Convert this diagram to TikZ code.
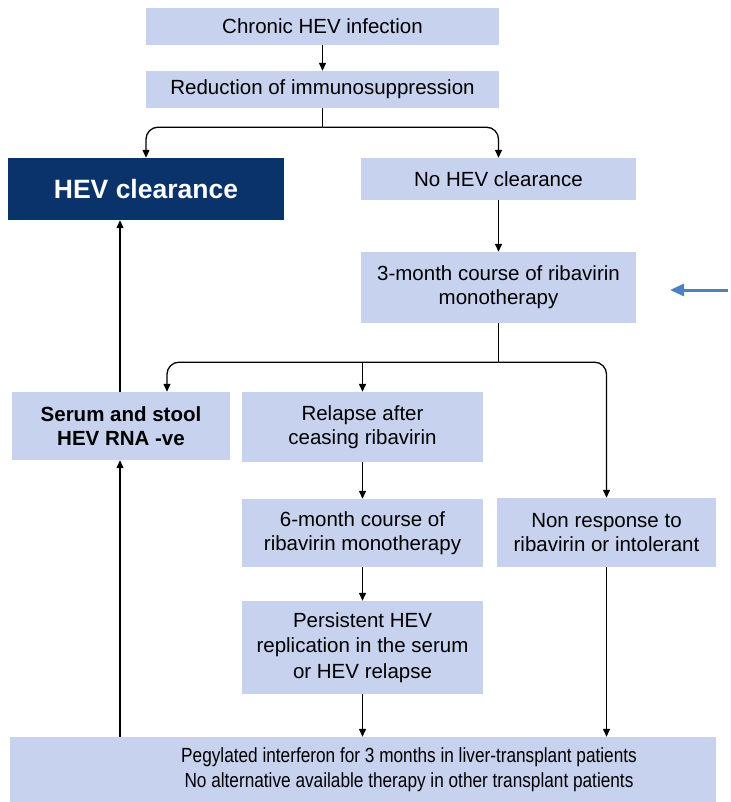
\documentclass[tikz,border=0pt]{standalone}
\usepackage{fontspec}
\setmainfont{Liberation Sans}
\newfontfamily\condfont[FakeStretch=0.84]{Liberation Sans}
\usetikzlibrary{arrows.meta,calc}
\definecolor{boxfill}{RGB}{198,210,238}
\definecolor{navy}{RGB}{11,51,107}
\definecolor{bluearrow}{RGB}{79,129,189}
\tikzset{
  box/.style={fill=boxfill, draw=none, align=center, inner sep=0pt, font=\fontsize{20.5}{24}\selectfont, text=black},
  arr/.style={line width=1.3pt, -{Triangle[width=7pt,length=8pt]}},
  ln/.style={line width=1.3pt}
}
\begin{document}
\begin{tikzpicture}[x=1pt,y=-1pt]
\useasboundingbox (0,0) rectangle (730,802);
\node[box, minimum width=353pt, minimum height=37pt] (chronic) at (322.5,26.5) {Chronic HEV infection};
\node[box, minimum width=353pt, minimum height=37pt] (reduction) at (322.5,89.5) {Reduction of immunosuppression};
\node[box, fill=navy, text=white, minimum width=276pt, minimum height=62pt, font=\fontsize{26.5}{30}\selectfont\bfseries] (clear) at (146,189) {HEV clearance};
\node[box, minimum width=275pt, minimum height=42pt] (noclear) at (498.5,179) {No HEV clearance};
\node[box, minimum width=275pt, minimum height=71pt] (three) at (498.5,287.5) {3-month course of ribavirin\\monotherapy};
\node[box, minimum width=218pt, minimum height=68pt, font=\fontsize{20.5}{24}\selectfont\bfseries] (serum) at (121,426) {Serum and stool\\HEV RNA -ve};
\node[box, minimum width=241pt, minimum height=70pt] (relapse) at (362.5,427) {Relapse after\\ceasing ribavirin};
\node[box, minimum width=241pt, minimum height=68pt] (six) at (362.5,533) {6-month course of\\ribavirin monotherapy};
\node[box, minimum width=219pt, minimum height=69pt] (nonresp) at (606.5,532.5) {Non response to\\ribavirin or intolerant};
\node[box, minimum width=241pt, minimum height=93pt, font=\fontsize{20.5}{25.5}\selectfont] (persist) at (362.5,647.5) {Persistent HEV\\replication in the serum\\or HEV relapse};
\node[box, minimum width=706pt, minimum height=65pt] (bottom) at (363,769.5) {};
\node[align=center, inner sep=0pt, font=\fontsize{20.5}{25}\condfont] (bottomtxt) at (409,769.5) {Pegylated interferon for 3 months in liver-transplant patients\\No alternative available therapy in other transplant patients};
% connectors
\draw[arr] (reduction.north |- chronic.south) -- (reduction.north);
\coordinate (j1) at ($(reduction.south)+(0,19)$);
\draw[ln] (reduction.south) -- (j1);
\draw[arr, rounded corners=12pt] (j1) -| (clear.north);
\draw[arr, rounded corners=12pt] (j1) -| (noclear.north);
\draw[arr] (noclear.south) -- (three.north);
\coordinate (j2) at ($(three.south)+(0,39)$);
\coordinate (serumin) at ($(serum.north)+(46,0)$);
\draw[ln] (three.south) -- (j2);
\draw[arr, rounded corners=12pt] (j2) -| (serumin);
\draw[arr, rounded corners=12pt] (j2) -| (nonresp.north);
\draw[arr] (relapse.north |- j2) -- (relapse.north);
\draw[arr] (relapse.south) -- (six.north);
\draw[arr] (six.south) -- (persist.north);
\draw[arr] (persist.south) -- (persist.south |- bottom.north);
\draw[arr] (nonresp.south) -- (nonresp.south |- bottom.north);
\coordinate (up1) at ($(serum.south)+(-1,0)$);
\draw[arr] (up1 |- bottom.north) -- (up1);
\coordinate (up2) at ($(clear.south)+(-26,0)$);
\draw[arr] (up2 |- serum.north) -- (up2);
% blue arrow
\coordinate (ba) at (728,290);
\coordinate (bb) at (670,290);
\draw[bluearrow, line width=3pt, -{Triangle[width=12pt,length=14pt]}] (ba) -- (bb);
\end{tikzpicture}
\end{document}
